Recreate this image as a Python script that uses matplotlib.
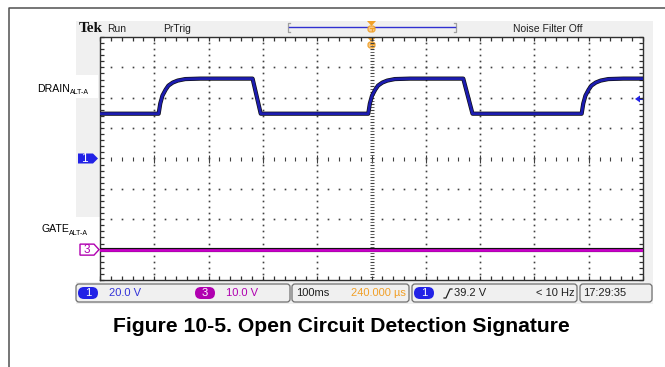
import numpy as np
import matplotlib
matplotlib.use("Agg")
import matplotlib.pyplot as plt
import matplotlib.patheffects as pe
from matplotlib import font_manager
from matplotlib.patches import Rectangle, FancyBboxPatch, Polygon

# channel 1 (drain): time in ms from trigger, volts
drain_t = [-500, -392, -389, -385, -379, -374, -366, -357, -343, -315, -219, -204,
           -6, -3, 1, 7, 12, 20, 29, 43, 71, 169, 186,
           387, 390, 394, 400, 405, 413, 422, 436, 464, 500]
drain_v = [29.5, 29.5, 36.2, 41.4, 45.4, 48.0, 50.0, 51.3, 52.3, 52.6, 52.6, 29.5,
           29.5, 36.2, 41.4, 45.4, 48.0, 50.0, 51.3, 52.3, 52.6, 52.6, 29.5,
           29.5, 36.2, 41.4, 45.4, 48.0, 50.0, 51.3, 52.3, 52.6, 52.6]

# channel 3 (gate) stays at 0 V
gate_t = [-500, 500]
gate_v = [0.0, 0.0]

ch1_scale = 20.0   # V/div
ch3_scale = 10.0   # V/div
ch1_pos = 0.0      # div
ch3_pos = -3.0     # div
trig_level = 39.2  # V
time_div = 100     # ms/div

ch1_label = "20.0 V"
ch3_label = "10.0 V"
time_label = "100ms"
delay_label = "240.000 µs"
trig_label = "39.2 V"
freq_label = "< 10 Hz"
clock_label = "17:29:35"
caption = "Figure 10-5. Open Circuit Detection Signature"

BLUE = "#2222e6"
TRACE_BLUE = "#1c1cb0"
MAGENTA = "#b000b0"
TRACE_MAG = "#c800c8"
ORANGE = "#f0a028"
INK = "#202020"

try:
    font_manager.findfont(font_manager.FontProperties(family="Liberation Sans Narrow"),
                          fallback_to_default=False)
    scope_family = ["Liberation Sans Narrow", "DejaVu Sans"]
    scope_size = 9.0
except ValueError:
    scope_family = ["Liberation Sans", "DejaVu Sans"]
    scope_size = 7.5

W, H = 665, 367
fig = plt.figure(figsize=(W / 100, H / 100), dpi=100)

# background layer in pixel units
ax = fig.add_axes([0, 0, 1, 1])
ax.set_xlim(0, W)
ax.set_ylim(H, 0)
ax.axis("off")

ax.plot([9, 9, W], [H, 8, 8], color="#505050", lw=1.1)
ax.add_patch(Rectangle((76, 21), 577, 283, fc="#f0f0f0", ec="none"))
ax.add_patch(Rectangle((76, 75), 22, 23, fc="white", ec="none"))
ax.add_patch(Rectangle((76, 217), 24, 65, fc="white", ec="none"))
ax.add_patch(Rectangle((100, 37), 543, 243, fc="white", ec="none"))

# graticule axes, x in ms, y in divisions
g = fig.add_axes([100 / W, 1 - 280 / H, 543 / W, 243 / H])
g.set_xlim(-5 * time_div, 5 * time_div)
g.set_ylim(-4, 4)
g.axis("off")

minor_x = np.arange(-5 * time_div, 5 * time_div + 1, time_div / 5)
minor_y = np.arange(-4, 4.01, 0.2)
dot = dict(ls="none", marker="s", ms=1.2, mew=0, color="#404040")
for k in range(-4, 5):
    if k == 0:
        continue
    g.plot(np.full_like(minor_y, k * time_div), minor_y, **dot)
for j in range(-3, 4):
    if j == 0:
        continue
    g.plot(minor_x, np.full_like(minor_x, j), **dot)

# centre crosshair
g.plot(minor_x, np.zeros_like(minor_x), ls="none", marker="|", ms=2.6, mew=0.8, color="#404040")
g.plot(np.arange(-4, 5) * time_div, np.zeros(9), ls="none", marker="|", ms=5.5, mew=0.8, color="#404040")
g.plot(np.zeros_like(minor_y), minor_y, ls="none", marker="_", ms=3.5, mew=0.8, color="#404040")
g.plot(np.zeros_like(minor_y[:-1]), minor_y[:-1] + 0.1, ls="none", marker="_", ms=2.2, mew=0.7, color="#606060")

# border with inward ticks
edge = "#303030"
g.plot([-500, 500, 500, -500, -500], [-4, -4, 4, 4, -4], color=edge, lw=1.0, clip_on=False)
tick = dict(ls="none", ms=2.6, mew=0.9, color=edge, clip_on=False)
g.plot(minor_x, np.full_like(minor_x, 4), marker=3, **tick)
g.plot(minor_x, np.full_like(minor_x, -4), marker=2, **tick)
g.plot(np.full_like(minor_y, -500), minor_y, marker=1, **tick)
g.plot(np.full_like(minor_y, 500), minor_y, marker=0, **tick)

# traces
outline = [pe.Stroke(linewidth=3.0, foreground="#101010"), pe.Normal()]
g.plot(drain_t, np.array(drain_v) / ch1_scale + ch1_pos, color=TRACE_BLUE, lw=2.0,
       solid_joinstyle="round", path_effects=outline, zorder=5)
g.plot(gate_t, np.array(gate_v) / ch3_scale + ch3_pos, color=TRACE_MAG, lw=2.0,
       path_effects=outline, zorder=5)


def to_px(t, div):
    # graticule data -> background pixel coordinates
    return ax.transData.inverted().transform(g.transData.transform((t, div)))


y1 = to_px(0, ch1_pos)[1]
y3 = to_px(0, ch3_pos)[1]
yt = to_px(0, trig_level / ch1_scale + ch1_pos)[1]
xt = to_px(0, 0)[0]

# channel ground markers
ax.add_patch(Polygon([(78, y1 - 5), (93, y1 - 5), (98, y1), (93, y1 + 5), (78, y1 + 5)],
                     closed=True, fc=BLUE, ec="none", zorder=6))
ax.text(84.5, y1 + 0.5, "1", color="white", ha="center", va="center",
        family=scope_family, fontsize=scope_size + 1, zorder=7)
ax.add_patch(Polygon([(80, y3 - 5.5), (94, y3 - 5.5), (99, y3), (94, y3 + 5.5), (80, y3 + 5.5)],
                     closed=True, fc="white", ec=MAGENTA, lw=1.0, zorder=6))
ax.text(87, y3 + 0.5, "3", color=MAGENTA, ha="center", va="center",
        family=scope_family, fontsize=scope_size + 1, zorder=7)

# trigger level arrow at right edge
ax.add_patch(Polygon([(635, yt), (640, yt - 3.5), (640, yt + 3.5)], closed=True,
                     fc=BLUE, ec="none", zorder=6))
ax.plot([639, 643], [yt, yt], color=BLUE, lw=1.5, zorder=6)

# trigger position markers
for top in (21, 37):
    ax.add_patch(Polygon([(xt - 4.5, top), (xt + 4.5, top), (xt, top + 5)], closed=True,
                         fc=ORANGE, ec="none", zorder=6))
    ax.add_patch(FancyBboxPatch((xt - 3.5, top + 5), 7, 6,
                                boxstyle="round,pad=0,rounding_size=2.5",
                                fc="#f9c98a", ec=ORANGE, lw=0.8, zorder=6))
    ax.plot([xt - 2, xt + 2, xt, xt, xt], [top + 7, top + 7, top + 7, top + 10, top + 7],
            color=ORANGE, lw=0.8, zorder=7)

# record bar
ax.plot([290, 288, 288, 290], [23, 23, 32, 32], color="#a0a0a0", lw=0.9)
ax.plot([454, 456, 456, 454], [23, 23, 32, 32], color="#a0a0a0", lw=0.9)
ax.plot([289, 455], [27, 27], color="#3030d0", lw=1.0)

# top status line
ax.text(79, 28, "Tek", family=["Liberation Serif", "DejaVu Serif"], weight="bold",
        fontsize=11, color="#111111", va="center")
ax.text(107, 28.5, "Run", family=scope_family, fontsize=scope_size, color=INK, va="center")
ax.text(163, 28.5, "PrTrig", family=scope_family, fontsize=scope_size, color=INK, va="center")
ax.text(513, 28.5, "Noise Filter Off", family=scope_family, fontsize=scope_size,
        color=INK, va="center")

# trace labels
ax.text(37, 92, "DRAIN", family="Liberation Sans", fontsize=7.6, color="black", va="baseline")
ax.text(70, 94, "ALT-A", family="Liberation Sans", fontsize=5.0, color="black", va="baseline")
ax.text(41, 232, "GATE", family="Liberation Sans", fontsize=7.6, color="black", va="baseline")
ax.text(69, 235, "ALT-A", family="Liberation Sans", fontsize=5.0, color="black", va="baseline")

# bottom readout boxes
for x0, x1 in [(76, 290), (292, 409), (412, 577), (580, 652)]:
    ax.add_patch(FancyBboxPatch((x0, 284), x1 - x0, 18,
                                boxstyle="round,pad=0,rounding_size=3",
                                fc="#f0f0f0", ec="#707070", lw=0.9))


def pill(x, label, color):
    ax.add_patch(FancyBboxPatch((x, 287), 20, 12, boxstyle="round,pad=0,rounding_size=6",
                                fc=color, ec="none", zorder=3))
    ax.text(x + 10, 293.5, label, color="white", ha="center", va="center",
            family=scope_family, fontsize=scope_size + 0.5, zorder=4)


ty = 293.5
pill(78, "1", BLUE)
ax.text(109, ty, ch1_label, color="#3333d8", va="center", family=scope_family, fontsize=scope_size + 0.5)
pill(195, "3", MAGENTA)
ax.text(226, ty, ch3_label, color=MAGENTA, va="center", family=scope_family, fontsize=scope_size + 0.5)
ax.text(296, ty, time_label, color=INK, va="center", family=scope_family, fontsize=scope_size + 0.5)
ax.text(406, ty, delay_label, color=ORANGE, ha="right", va="center",
        family=scope_family, fontsize=scope_size + 0.5)
pill(414, "1", BLUE)
ax.plot([444, 446, 450, 452], [298, 298, 289, 289], color=INK, lw=0.9)
ax.text(454, ty, trig_label, color=INK, va="center", family=scope_family, fontsize=scope_size + 0.5)
ax.text(575, ty, freq_label, color=INK, ha="right", va="center",
        family=scope_family, fontsize=scope_size + 0.5)
ax.text(583, ty, clock_label, color=INK, va="center", family=scope_family, fontsize=scope_size + 0.5)

ax.text(341, 332, caption, ha="center", va="baseline", family="Liberation Sans",
        weight="bold", fontsize=15.2, color="black")

fig.savefig("out.png", dpi=100)
